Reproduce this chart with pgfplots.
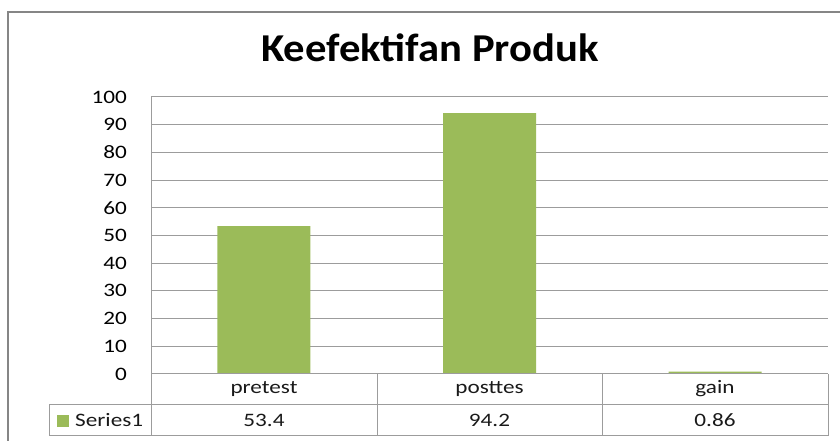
\documentclass[border=0pt]{standalone}
\usepackage{fontspec}
\setmainfont{Carlito}[FakeStretch=1.22]
\newfontfamily\titlefont{Carlito}[FakeStretch=1.08]
\usepackage{pgfplots}
\pgfplotsset{compat=1.18}
\definecolor{barg}{HTML}{9BBB59}
\definecolor{gridc}{HTML}{9C9C9C}
\definecolor{borderc}{HTML}{868686}
\begin{document}
\begin{tikzpicture}[x=1pt,y=1pt]
\path[use as bounding box] (0,0) rectangle (840,441);
\draw[borderc, line width=2.5pt] (8,0) -- (8,429) -- (842,429);
\node[font=\titlefont\bfseries\fontsize{39.5}{42}\selectfont] at (430,393) {Keefektifan Produk};
\begin{axis}[
  at={(151pt,67pt)}, anchor=south west,
  scale only axis, width=677pt, height=277pt,
  xmin=-0.5, xmax=2.5, ymin=0, ymax=100,
  xtick=\empty,
  ytick={0,10,...,100},
  ymajorgrids, grid style={gridc, line width=1pt},
  axis x line=none,
  axis y line*=left,
  y axis line style={gridc, line width=1pt, -},
  major tick length=0pt,
  /pgf/number format/assume math mode=true,
  yticklabel style={font=\fontsize{19}{21}\selectfont, text=black, anchor=east, inner sep=0pt, xshift=-24pt},
  clip=false,
]
\addplot[ybar, bar width=93pt, fill=barg, draw=none] coordinates {(0,53.4) (1,94.2) (2,0.86)};
\end{axis}
\begin{scope}[gridc, line width=1pt]
\draw (151,67) -- (828,67);
\draw (49,36) -- (828,36);
\draw (49,5) -- (828,5);
\draw (49,36) -- (49,5);
\draw (151,67) -- (151,5);
\draw (377,67) -- (377,5);
\draw (602,67) -- (602,5);
\draw (828,67) -- (828,5);
\end{scope}
\fill[barg] (57,14) rectangle (69,26);
\begin{scope}[every node/.style={font=\fontsize{19}{21}\selectfont, text=black!90, inner sep=0pt}]
\node[anchor=west] at (75,20.5) {Series1};
\node at (264,52) {pretest};
\node at (489.5,52) {posttes};
\node at (715,52) {gain};
\node at (264,20.5) {53.4};
\node at (489.5,20.5) {94.2};
\node at (715,20.5) {0.86};
\end{scope}
\end{tikzpicture}
\end{document}
